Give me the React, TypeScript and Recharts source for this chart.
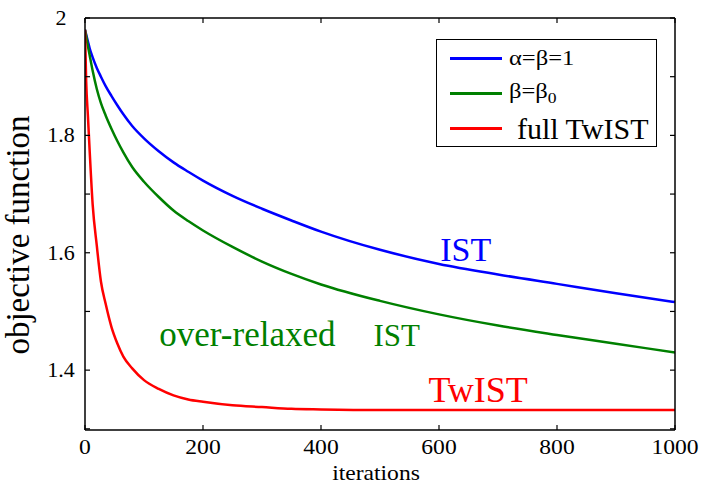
import { LineChart, Line, XAxis, YAxis, Legend, ReferenceDot } from 'recharts'

// iteration counts shared by the three runs
const iterations = [0, 2, 5, 8, 13, 20, 27, 35, 45, 55, 65, 80, 100, 125, 150, 175, 200, 250, 300, 350, 400, 500, 600, 700, 800, 900, 1000]

// objective function, alpha = beta = 1 (plain IST)
const istValues = [1.98, 1.972, 1.96, 1.948, 1.933, 1.915, 1.9, 1.884, 1.867, 1.851, 1.836, 1.816, 1.795, 1.773, 1.754, 1.738, 1.723, 1.697, 1.675, 1.655, 1.636, 1.605, 1.581, 1.563, 1.547, 1.531, 1.516]

// objective function, beta = beta_0 (over-relaxed IST)
const overRelaxedValues = [1.98, 1.969, 1.952, 1.936, 1.91, 1.879, 1.855, 1.834, 1.811, 1.79, 1.771, 1.746, 1.721, 1.695, 1.672, 1.654, 1.638, 1.61, 1.585, 1.564, 1.546, 1.518, 1.495, 1.476, 1.46, 1.445, 1.43]

// objective function, full TwIST
const twistValues = [1.98, 1.892, 1.832, 1.772, 1.682, 1.612, 1.551, 1.513, 1.473, 1.445, 1.423, 1.403, 1.383, 1.368, 1.357, 1.35, 1.346, 1.34, 1.337, 1.334, 1.333, 1.332, 1.332, 1.332, 1.332, 1.332, 1.332]

const xTicks = [0, 200, 400, 600, 800, 1000]
const yTicks = [1.3, 1.4, 1.5, 1.6, 1.7, 1.8, 1.9, 2]
const yLabelled = [1.4, 1.6, 1.8, 2]

const data = iterations.map((it, i) => ({
    iteration: it,
    ist: istValues[i],
    over: overRelaxedValues[i],
    twist: twistValues[i],
}))

const FONT = '"Liberation Serif", "Times New Roman", serif'
const BLUE = '#0000FF'
const GREEN = '#008000'
const RED = '#FF0000'
const TICK_LEN = 5
const Y_LABEL_GAP = 24
// the x-axis text is set a little wide
const X_STRETCH = 1.15

function LeftTick(props: any) {
    const { x, y, payload } = props
    const axisX = x + Y_LABEL_GAP
    return (
        <g>
            <line x1={axisX} y1={y} x2={axisX + TICK_LEN} y2={y} stroke="#000" strokeWidth={1.2} />
            {yLabelled.includes(payload.value) && (
                <text x={x} y={y + 7} textAnchor="middle" fontFamily={FONT} fontSize={22} fill="#000">
                    {String(payload.value)}
                </text>
            )}
        </g>
    )
}

function RightTick(props: any) {
    const { x, y } = props
    return <line x1={x} y1={y} x2={x - TICK_LEN} y2={y} stroke="#000" strokeWidth={1.2} />
}

function BottomTick(props: any) {
    const { x, y, payload } = props
    return (
        <g>
            <line x1={x} y1={y} x2={x} y2={y - TICK_LEN} stroke="#000" strokeWidth={1.2} />
            <text
                transform={`translate(${x} ${y + 24}) scale(${X_STRETCH} 1)`}
                textAnchor="middle"
                fontFamily={FONT}
                fontSize={20.5}
                fill="#000"
            >
                {String(payload.value)}
            </text>
        </g>
    )
}

function TopTick(props: any) {
    const { x, y } = props
    return <line x1={x} y1={y} x2={x} y2={y + TICK_LEN} stroke="#000" strokeWidth={1.2} />
}

const wide = { display: 'inline-block', transform: 'scaleX(1.17)', transformOrigin: 'left center' } as const

function LegendBox() {
    const rows = [
        { color: BLUE, label: <span style={{ ...wide, fontSize: 21 }}>α=β=1</span> },
        { color: GREEN, label: <span style={{ ...wide, fontSize: 21 }}>β=β<sub style={{ fontSize: 15 }}>0</sub></span> },
        { color: RED, label: <span style={{ fontSize: 30, marginLeft: 8 }}>full TwIST</span> },
    ]
    return (
        <div
            style={{
                boxSizing: 'border-box',
                width: 221,
                height: 108,
                border: '1.5px solid #000',
                background: '#fff',
                paddingTop: 1,
                fontFamily: FONT,
                color: '#000',
            }}
        >
            {rows.map((r, i) => (
                <div key={i} style={{ height: 35, display: 'flex', alignItems: 'center', whiteSpace: 'nowrap' }}>
                    <div style={{ width: 52, height: 2.5, background: r.color, marginLeft: 13, marginRight: 7, flexShrink: 0 }} />
                    {r.label}
                </div>
            ))}
        </div>
    )
}

function annotation(text: string, color: string, size: number, extra?: { text: string; dx: number; size: number }) {
    return ({ viewBox }: any) => (
        <text x={viewBox.x} y={viewBox.y} fontFamily={FONT} fontSize={size} fill={color}>
            {text}
            {extra && (
                <tspan dx={extra.dx} fontSize={extra.size}>
                    {extra.text}
                </tspan>
            )}
        </text>
    )
}

export default function App() {
    return (
        <div style={{ position: 'absolute', left: 0, top: 0, width: 702, height: 484, background: '#fff' }}>
            <LineChart width={702} height={484} data={data} margin={{ top: 17, right: 26, bottom: 0, left: 0 }}>
                <XAxis
                    dataKey="iteration"
                    type="number"
                    domain={[0, 1000]}
                    ticks={xTicks}
                    allowDataOverflow
                    height={54}
                    tickSize={0}
                    tickMargin={0}
                    tickLine={false}
                    axisLine={{ stroke: '#000', strokeWidth: 1.5 }}
                    tick={BottomTick}
                    label={({ viewBox }: any) => (
                        <text
                            transform={`translate(${viewBox.x + viewBox.width / 2 - 4} ${viewBox.y + 50}) scale(${X_STRETCH} 1)`}
                            textAnchor="middle"
                            fontFamily={FONT}
                            fontSize={20.5}
                            fill="#000"
                        >
                            iterations
                        </text>
                    )}
                />
                <XAxis
                    xAxisId="top"
                    orientation="top"
                    dataKey="iteration"
                    type="number"
                    domain={[0, 1000]}
                    ticks={xTicks}
                    allowDataOverflow
                    height={1}
                    tickSize={0}
                    tickMargin={0}
                    tickLine={false}
                    axisLine={{ stroke: '#000', strokeWidth: 1.5 }}
                    tick={TopTick}
                />
                <YAxis
                    type="number"
                    domain={[1.298, 2]}
                    ticks={yTicks}
                    allowDataOverflow
                    width={85}
                    tickSize={0}
                    tickMargin={Y_LABEL_GAP}
                    tickLine={false}
                    axisLine={{ stroke: '#000', strokeWidth: 1.5 }}
                    tick={LeftTick}
                    label={({ viewBox }: any) => {
                        const cx = viewBox.x + 29
                        const cy = viewBox.y + viewBox.height / 2 + 11
                        return (
                            <text x={cx} y={cy} transform={`rotate(-90 ${cx} ${cy})`} textAnchor="middle" fontFamily={FONT} fontSize={33} fill="#000">
                                objective function
                            </text>
                        )
                    }}
                />
                <YAxis
                    yAxisId="right"
                    orientation="right"
                    type="number"
                    domain={[1.298, 2]}
                    ticks={yTicks}
                    allowDataOverflow
                    width={1}
                    tickSize={0}
                    tickMargin={0}
                    tickLine={false}
                    axisLine={{ stroke: '#000', strokeWidth: 1.5 }}
                    tick={RightTick}
                />
                <Legend
                    layout="vertical"
                    align="center"
                    verticalAlign="middle"
                    wrapperStyle={{ left: 436, top: 39, width: 221, height: 108 }}
                    content={() => <LegendBox />}
                />
                <Line type="monotone" dataKey="ist" name="α=β=1" stroke={BLUE} strokeWidth={2.5} dot={false} isAnimationActive={false} />
                <Line type="monotone" dataKey="over" name="β=β0" stroke={GREEN} strokeWidth={2.5} dot={false} isAnimationActive={false} />
                <Line type="monotone" dataKey="twist" name="full TwIST" stroke={RED} strokeWidth={2.5} dot={false} isAnimationActive={false} />
                <ReferenceDot x={602} y={1.5855} r={0} fill="none" stroke="none" label={annotation('IST', BLUE, 34)} />
                <ReferenceDot x={126} y={1.441} r={0} fill="none" stroke="none" label={annotation('over-relaxed', GREEN, 35, { text: 'IST', dx: 38, size: 31 })} />
                <ReferenceDot x={582} y={1.346} r={0} fill="none" stroke="none" label={annotation('TwIST', RED, 36)} />
            </LineChart>
        </div>
    )
}
